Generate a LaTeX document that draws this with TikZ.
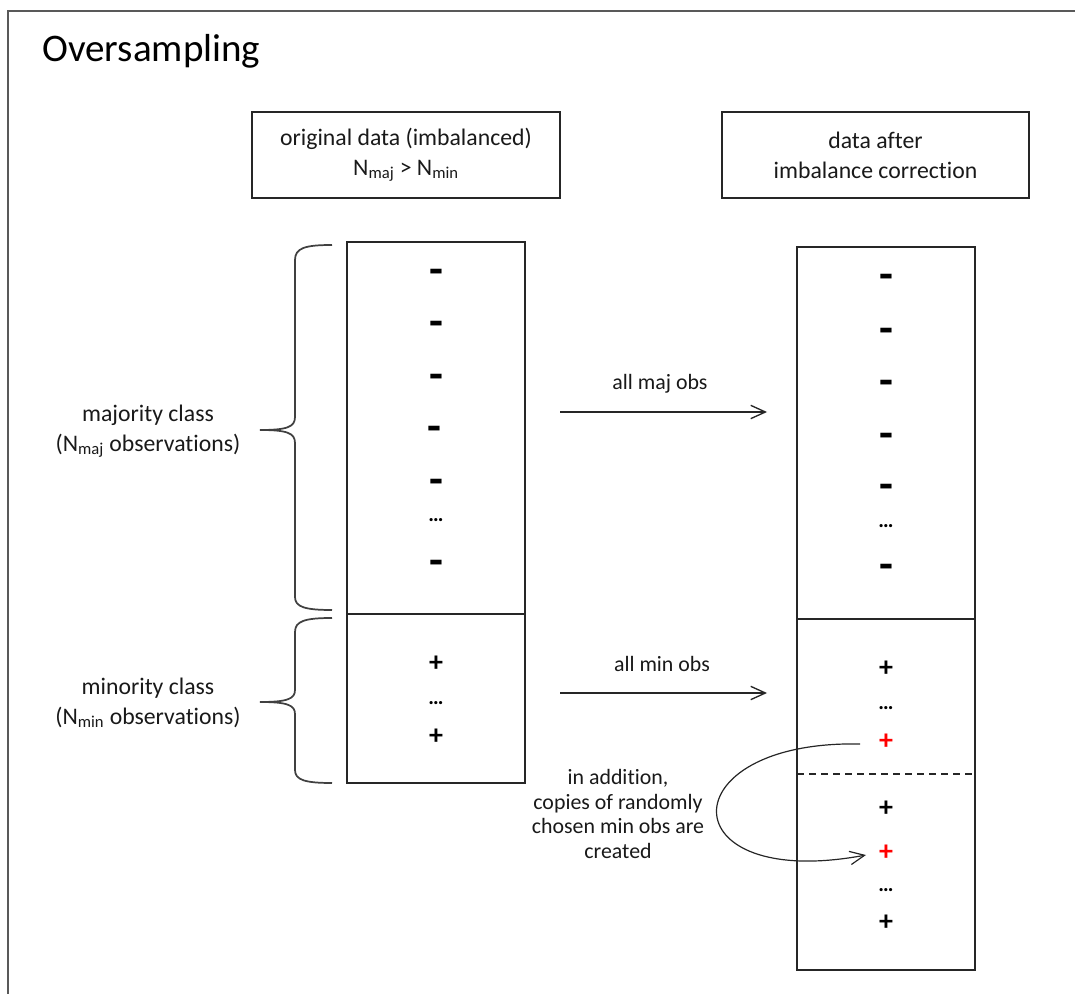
\documentclass[tikz,border=0pt]{standalone}
\usepackage{fontspec}
\setmainfont{Carlito}[Ligatures=NoCommon]
\usetikzlibrary{arrows.meta}
\newdimen\px \px=0.75pt
\begin{document}
\begin{tikzpicture}[x=0.75pt,y=-0.75pt,
  box/.style={draw=black!85, line width=1.3pt, inner sep=0pt},
  lbl/.style={font=\fontsize{17.8}{22.5}\selectfont, align=center, text=black!90},
  small/.style={font=\fontsize{16.4}{18.4}\selectfont, align=center, text=black!90},
  minus/.style={font=\fontsize{34}{34}\selectfont\bfseries, inner sep=0pt},
  plus/.style={font=\fontsize{21}{21}\selectfont\bfseries, inner sep=0pt},
  dots/.style={font=\fontsize{16}{16}\selectfont\bfseries, inner sep=0pt},
  bracestyle/.style={draw=black!75, line width=1.3pt},
  arr/.style={draw=black!85, line width=1pt, -{Straight Barb[length=11pt,width=10pt]}},
]
\useasboundingbox (0,0) rectangle (1075,994);
% outer frame
\draw[draw=black!65, line width=1.5pt] (8,994) -- (8,11) -- (1075,11);
% title
\node[anchor=base west, font=\fontsize{29.3}{29}\selectfont, inner sep=0pt] (title) at (42,62) {Oversampling};
% header boxes
\node[box, lbl, minimum width=308\px, minimum height=86\px] (orig) at (406,155)
  {original data (imbalanced)\\N\textsubscript{maj} > N\textsubscript{min}};
\node[box, lbl, minimum width=307\px, minimum height=86\px] (after) at (875.5,155)
  {data after\\imbalance correction};
% columns
\node[box, minimum width=178\px, minimum height=372\px] (maj1) at (436,428) {};
\node[box, minimum width=178\px, minimum height=169\px] (min1) at (436,698.5) {};
\node[box, minimum width=178\px, minimum height=372\px] (maj2) at (886,433) {};
\node[box, minimum width=178\px, minimum height=351\px] (min2) at (886,794.5) {};
\coordinate (dl) at (797,774);
\coordinate (dr) at (975,774);
\draw[dashed, draw=black!85, line width=1pt, dash pattern=on 5pt off 4pt] (dl) -- (dr);
% left symbols
\node[minus] (l1) at (436,277) {-};
\node[minus] (l2) at (436,329) {-};
\node[minus] (l3) at (436,382) {-};
\node[minus] (l4) at (434,434) {-};
\node[minus] (l5) at (436,487) {-};
\node[dots]  (l6) at (436,520) {…};
\node[minus] (l7) at (436,568) {-};
\node[plus]  (l8) at (436,664) {+};
\node[dots]  (l9) at (436,703) {…};
\node[plus]  (l10) at (436,737) {+};
% right symbols
\node[minus] (r1) at (886,282) {-};
\node[minus] (r2) at (886,336) {-};
\node[minus] (r3) at (886,388) {-};
\node[minus] (r4) at (886,441) {-};
\node[minus] (r5) at (886,492) {-};
\node[dots]  (r6) at (886,526) {…};
\node[minus] (r7) at (886,572) {-};
\node[plus]  (r8) at (886,669) {+};
\node[dots]  (r9) at (886,708) {…};
\node[plus, text=red] (r10) at (886,742) {+};
\node[plus]  (r11) at (886,809) {+};
\node[plus, text=red] (r12) at (886,853) {+};
\node[dots]  (r13) at (886,890) {…};
\node[plus]  (r14) at (886,923) {+};
% braces
\draw[bracestyle] (332,245) .. controls (305,245) and (295,248) .. (295,260) -- (295,417)
  .. controls (295,427) and (287,430) .. (260,430)
  .. controls (287,430) and (295,433) .. (295,443) -- (295,597)
  .. controls (295,607) and (305,610) .. (332,610);
\draw[bracestyle] (332,618) .. controls (305,618) and (295,621) .. (295,632) -- (295,690)
  .. controls (295,699) and (287,702) .. (260,702)
  .. controls (287,702) and (295,705) .. (295,714) -- (295,770)
  .. controls (295,780) and (305,783) .. (332,783);
% brace labels
\node[lbl] (majl) at (148,431) {majority class\\(N\textsubscript{maj} observations)};
\node[lbl] (minl) at (148,703) {minority class\\(N\textsubscript{min} observations)};
% straight arrows
\node[small] (amaj) at (660,384) {all maj obs};
\node[small] (amin) at (662,664) {all min obs};
\coordinate (a1s) at (560,412);
\coordinate (a1e) at (767,412);
\coordinate (a2s) at (560,693);
\coordinate (a2e) at (767,693);
\draw[arr] (a1s) -- (a1e);
\draw[arr] (a2s) -- (a2e);
% curved arrow
\node[small] (note) at (618,814) {in addition,\\copies of randomly\\chosen min obs are\\created};
\coordinate (c1) at (860,744);
\coordinate (c2) at (866,855);
\draw[arr, line width=0.9pt] (c1) .. controls (668,740) and (668,892) .. (c2);
\end{tikzpicture}
\end{document}
